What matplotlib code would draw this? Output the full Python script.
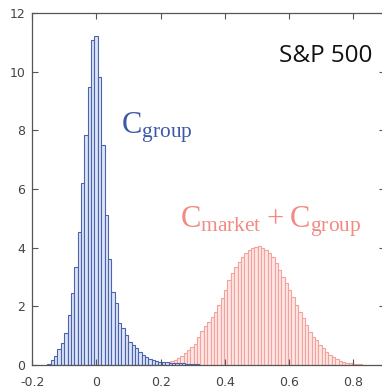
import numpy as np
import matplotlib
matplotlib.use("Agg")
from matplotlib import pyplot as plt

plt.rcParams['mathtext.fontset'] = 'custom'
plt.rcParams['mathtext.rm'] = 'Liberation Serif'

# histogram densities, one value per bin
bin_width = 0.0105
group_start = -0.1533
group_density = [0.03, 0.17, 0.32, 0.55, 0.75, 1.09, 1.70, 2.45, 3.34, 4.53,
                 6.2, 7.84, 9.47, 11.07, 11.2, 9.81, 7.5, 5.1, 3.6, 2.5,
                 2.1, 1.43, 1.26, 1.02, 0.79, 0.68, 0.58, 0.45, 0.34, 0.27,
                 0.2, 0.17, 0.12, 0.1, 0.1, 0.09, 0.08, 0.07, 0.06, 0.05,
                 0.05, 0.04, 0.03, 0.03, 0.02]
market_start = 0.198
market_density = [0.03, 0.05, 0.08, 0.12, 0.17, 0.24, 0.32, 0.40, 0.50, 0.60,
                  0.72, 0.95, 1.15, 1.33, 1.48, 1.65, 1.82, 2.04, 2.28, 2.56,
                  2.90, 3.13, 3.35, 3.52, 3.69, 3.81, 3.92, 3.98, 4.03, 4.05,
                  3.98, 3.92, 3.81, 3.69, 3.47, 3.24, 3.0, 2.78, 2.55, 2.32,
                  2.04, 1.82, 1.6, 1.36, 1.13, 0.96, 0.85, 0.68, 0.58, 0.45,
                  0.34, 0.27, 0.2, 0.15, 0.11, 0.08, 0.06, 0.04, 0.03, 0.02]

x_ticks = [-0.2, 0, 0.2, 0.4, 0.6, 0.8]
x_tick_labels = ['-0.2', '0', '0.2', '0.4', '0.6', '0.8']
y_ticks = [0, 2, 4, 6, 8, 10, 12]


def draw_hist(ax, start, heights, face, edge):
    left = start + bin_width * np.arange(len(heights))
    ax.bar(left, heights, width=bin_width, align='edge',
           facecolor=face, edgecolor=edge, linewidth=0.8)


fig = plt.figure(figsize=(3.82, 3.92), dpi=100)
ax = fig.add_axes([0.0846, 0.069, 0.924, 0.898])

draw_hist(ax, market_start, market_density, '#fde6e4', '#f3a39c')
draw_hist(ax, group_start, group_density, '#dde4f6', '#4a64ae')

ax.set_xlim(-0.2, 0.9)
ax.set_ylim(0, 12)
ax.set_xticks(x_ticks)
ax.set_xticklabels(x_tick_labels)
ax.set_yticks(y_ticks)
ax.tick_params(direction='in', length=4, width=0.8, top=True, right=True,
               labelsize=9, labelcolor='#444444', color='#555555')
ax.tick_params(axis='x', pad=8)
ax.tick_params(axis='y', pad=5)
for s in ax.spines.values():
    s.set_color('#555555')
    s.set_linewidth(0.9)

ax.text(0.861, 10.32, 'S&P 500', fontsize=17.5, family='Open Sans',
        ha='right', va='baseline', color='#111111')
ax.text(0.076, 7.9, r'$\mathrm{C_{group}}$', fontsize=22,
        color='#3d5aa8', ha='left', va='baseline')
ax.text(0.26, 4.7, r'$\mathrm{C_{market} + C_{group}}$', fontsize=22,
        color='#f08a82', ha='left', va='baseline')

plt.savefig('out.png', dpi=100)
